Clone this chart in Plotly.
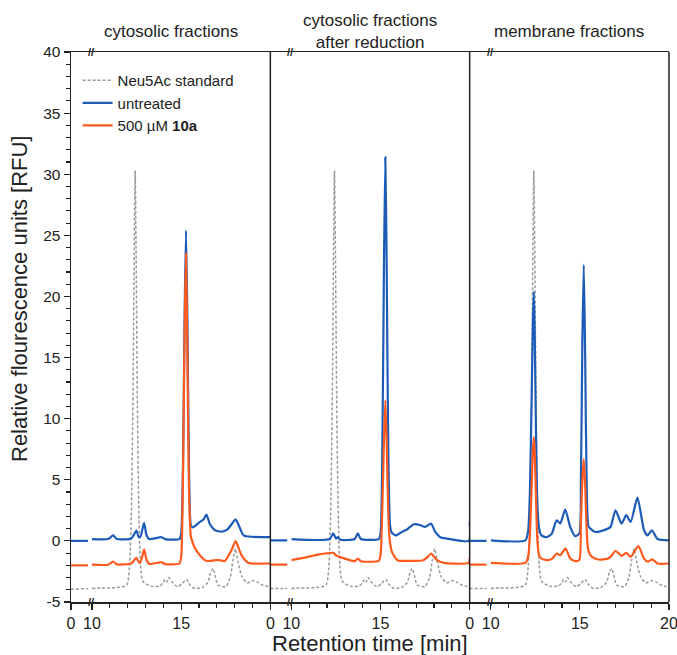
import plotly.graph_objects as go

# ---------------- data ----------------
PANEL_TITLES = ["cytosolic fractions", "cytosolic fractions<br>after reduction", "membrane fractions"]
SERIES_NAMES = ["Neu5Ac standard", "untreated", "500 µM <b>10a</b>"]

# left (0 .. ~1 min) segment of the broken axis
LEFT_T = [0.0, 0.95]
LEFT_STD = [[-3.95, -3.9], [-3.9, -3.9], [-3.9, -3.9]]
LEFT_BLUE = [[0.0, 0.0], [0.05, 0.05], [0.0, 0.0]]
LEFT_ORANGE = [[-2.0, -2.0], [-1.95, -1.95], [-1.95, -1.95]]

# Neu5Ac standard (same in all panels), 10..20 min
STD_T = [10.0, 10.5, 11.0, 11.5, 11.95, 12.1, 12.2, 12.3, 12.37, 12.42, 12.47, 12.54, 12.62, 12.72, 12.85,
         13.3, 13.8, 14.0, 14.1, 14.2, 14.3, 14.45, 14.8, 15.05, 15.3, 15.5, 15.75, 16.2, 16.5, 16.65,
         16.78, 16.9, 17.06, 17.5, 17.75, 17.9, 18.04, 18.2, 18.4, 18.7, 19.0, 19.3, 19.6, 20.0]
STD_V = [-3.9, -3.85, -3.85, -3.8, -3.6, -2.2, 2.0, 12.0, 24.0, 30.3, 24.0, 12.0, 3.0, -2.0, -3.3,
         -3.7, -3.7, -3.4, -3.15, -3.35, -3.0, -3.3, -3.75, -3.5, -3.15, -3.6, -3.9, -3.8, -3.4, -2.6,
         -2.25, -2.8, -3.6, -3.75, -3.0, -1.6, -0.65, -1.8, -2.9, -3.45, -3.25, -3.4, -3.65, -3.75]

# panel 1: cytosolic fractions
P1_BLUE_T = [10.0, 10.9, 11.19, 11.4, 12.2, 12.35, 12.49, 12.62, 12.73, 12.92, 13.05, 13.2, 13.9, 14.1,
             14.9, 15.0, 15.1, 15.19, 15.27, 15.35, 15.44, 15.54, 15.64, 15.85, 16.05, 16.25, 16.42,
             16.6, 16.9, 17.27, 17.6, 17.85, 18.05, 18.25, 18.5, 19.0, 20.0]
P1_BLUE_V = [0.15, 0.15, 0.45, 0.15, 0.2, 0.5, 0.85, 0.3, 0.4, 1.47, 0.5, 0.15, 0.3, 0.15,
             0.15, 0.6, 6.0, 18.0, 25.4, 18.0, 6.0, 1.3, 1.1, 1.3, 1.55, 1.75, 2.15,
             1.4, 0.87, 0.75, 0.95, 1.4, 1.77, 1.2, 0.46, 0.33, 0.3]
P1_ORANGE_T = [10.0, 10.9, 11.19, 11.4, 12.2, 12.35, 12.49, 12.62, 12.69, 12.8, 12.92, 13.05, 13.2, 13.9,
               14.1, 14.9, 15.0, 15.1, 15.19, 15.27, 15.35, 15.44, 15.54, 15.6, 15.74, 16.12, 16.4,
               16.69, 17.06, 17.44, 17.82, 18.05, 18.2, 18.38, 18.76, 20.0]
P1_ORANGE_V = [-1.95, -1.95, -1.7, -1.92, -1.85, -1.6, -1.39, -1.75, -1.8, -1.4, -0.7, -1.5, -1.87, -1.75,
               -1.9, -1.85, -1.3, 5.0, 17.0, 23.5, 15.0, 4.0, 0.4, 0.06, -0.5, -1.3, -1.63,
               -1.63, -1.55, -1.65, -0.76, -0.02, -0.5, -1.16, -1.78, -1.85]

# panel 2: cytosolic fractions after reduction
P2_BLUE_T = [10.0, 12.15, 12.35, 12.5, 12.6, 12.75, 13.55, 13.73, 13.9, 14.9, 15.0, 15.1, 15.19, 15.27,
             15.35, 15.44, 15.54, 15.62, 15.85, 16.2, 16.5, 16.87, 17.25, 17.5, 17.83, 18.07, 18.35,
             18.9, 19.95, 20.0]
P2_BLUE_V = [0.15, 0.15, 0.62, 0.2, 0.3, 0.1, 0.15, 0.62, 0.15, 0.15, 0.6, 7.0, 22.0, 31.4,
             22.0, 7.0, 1.2, 0.7, 0.45, 0.73, 0.95, 1.36, 1.28, 1.14, 1.42, 0.73, 0.3,
             0.15, 0.0, 1.55]
P2_ORANGE_T = [10.0, 10.8, 11.5, 12.35, 12.5, 13.0, 13.55, 13.73, 13.9, 14.9, 15.0, 15.1, 15.19, 15.27,
               15.35, 15.44, 15.52, 15.64, 15.95, 16.8, 17.4, 17.65, 17.83, 18.17, 18.55, 19.95, 20.0]
P2_ORANGE_V = [-1.58, -1.35, -1.12, -0.98, -1.17, -1.45, -1.66, -1.45, -1.66, -1.63, -1.2, 2.5, 8.0, 11.5,
               8.0, 2.0, 0.06, -0.9, -1.58, -1.63, -1.58, -1.31, -1.03, -1.58, -1.8, -1.8, -1.4]

# panel 3: membrane fractions
P3_BLUE_T = [10.0, 11.95, 12.1, 12.2, 12.3, 12.37, 12.42, 12.47, 12.54, 12.62, 12.72, 12.85, 13.14, 13.42,
             13.7, 13.9, 14.18, 14.46, 14.74, 14.97, 15.06, 15.14, 15.22, 15.3, 15.39, 15.48, 15.59,
             15.87, 16.44, 16.72, 17.0, 17.34, 17.6, 17.85, 18.23, 18.6, 18.8, 19.04, 19.36, 20.0]
P3_BLUE_V = [0.05, 0.05, 0.8, 4.0, 12.0, 18.0, 20.4, 17.0, 9.0, 3.0, 1.0, 0.45, 0.3, 0.57,
             1.69, 1.42, 2.56, 1.14, 0.38, 0.6, 5.0, 16.0, 22.6, 15.0, 4.0, 1.2, 1.0,
             0.73, 0.92, 1.14, 2.5, 1.42, 2.1, 1.55, 3.54, 0.87, 0.45, 0.87, 0.15, 0.05]
P3_ORANGE_T = [10.0, 11.95, 12.1, 12.2, 12.3, 12.37, 12.42, 12.47, 12.54, 12.62, 12.72, 12.85, 13.2, 13.45,
               13.7, 13.9, 14.2, 14.46, 14.74, 14.97, 15.06, 15.14, 15.22, 15.3, 15.38, 15.48, 15.68,
               16.06, 16.6, 16.8, 17.0, 17.34, 17.6, 17.85, 18.28, 18.6, 18.8, 19.06, 19.36, 20.0]
P3_ORANGE_V = [-1.8, -1.8, -1.3, 0.5, 4.5, 7.5, 8.5, 7.3, 3.5, 0.0, -1.2, -1.45, -1.58, -1.45,
               -1.03, -1.17, -0.62, -1.45, -1.66, -1.55, 1.5, 5.0, 6.7, 4.5, 1.0, -0.8, -1.31,
               -1.52, -1.45, -1.17, -0.82, -1.22, -0.98, -1.31, -0.43, -1.45, -1.7, -1.52, -1.85, -1.85]

BLUE_T = [P1_BLUE_T, P2_BLUE_T, P3_BLUE_T]
BLUE_V = [P1_BLUE_V, P2_BLUE_V, P3_BLUE_V]
ORANGE_T = [P1_ORANGE_T, P2_ORANGE_T, P3_ORANGE_T]
ORANGE_V = [P1_ORANGE_V, P2_ORANGE_V, P3_ORANGE_V]

Y_TICKS = [-5, 0, 5, 10, 15, 20, 25, 30, 35, 40]

# ---------------- styling ----------------
BLUE = "#1c5cb8"
ORANGE = "#ff5a1e"
GREY = "#999999"
INK = "#222222"
FONT = "Arial, Liberation Sans, sans-serif"

W, H = 677, 655
# plot area in page pixels: x 71..669, y 52..602
ML, MR = 71, 677 - 669
MT, MB = 52, 655 - 602
PLOT_W = 669 - 71
PLOT_H = 602 - 52
LEFT_W = 21 / PLOT_W  # width of the 0-min stub

fig = go.Figure()

def add_line(xa, t, v, color, dash, width, name=None, show=False, group=None):
    fig.add_trace(go.Scatter(
        x=t, y=v, xaxis=xa, yaxis="y", mode="lines",
        line=dict(color=color, width=width, dash=dash, shape="spline", smoothing=0.6),
        name=name, showlegend=show, legendgroup=group, hoverinfo="skip"))

for p in range(3):
    xl = "x" if p == 0 else f"x{2 * p + 1}"
    xr = f"x{2 * p + 2}"
    first = p == 0
    add_line(xl, LEFT_T, LEFT_STD[p], GREY, "3px,2px", 1.5, SERIES_NAMES[0], False, "s")
    add_line(xl, LEFT_T, LEFT_ORANGE[p], ORANGE, "solid", 2.2, SERIES_NAMES[2], False, "o")
    add_line(xl, LEFT_T, LEFT_BLUE[p], BLUE, "solid", 2.2, SERIES_NAMES[1], False, "b")
    add_line(xr, STD_T, STD_V, GREY, "3px,2px", 1.5, SERIES_NAMES[0], first, "s")
    add_line(xr, BLUE_T[p], BLUE_V[p], BLUE, "solid", 2.2, SERIES_NAMES[1], first, "b")
    add_line(xr, ORANGE_T[p], ORANGE_V[p], ORANGE, "solid", 2.2, SERIES_NAMES[2], first, "o")

axis_common = dict(showline=True, linecolor=INK, linewidth=1.5, mirror=True, ticks="outside",
                   ticklen=6, tickwidth=1.2, tickcolor=INK, showgrid=False, zeroline=False,
                   tickfont=dict(size=16, color=INK, family=FONT), anchor="y", fixedrange=True,
                   ticklabeloverflow="allow", automargin=False)

layout_axes = {}
for p in range(3):
    x0 = p / 3
    x1 = (p + 1) / 3
    lname = "xaxis" if p == 0 else f"xaxis{2 * p + 1}"
    rname = f"xaxis{2 * p + 2}"
    layout_axes[lname] = dict(axis_common, domain=[x0, x0 + LEFT_W], range=[0, 21 / 17.8],
                              tickvals=[0], ticktext=["0"])
    rt = [10, 15, 20] if p == 2 else [10, 15]
    layout_axes[rname] = dict(axis_common, domain=[x0 + LEFT_W, x1], range=[10, 20],
                              tickvals=rt, ticktext=[str(v) for v in rt],
                              minor=dict(dtick=1, tick0=10, ticks="outside", ticklen=4,
                                         tickwidth=1.2, tickcolor=INK))

fig.update_layout(
    width=W, height=H,
    margin=dict(l=ML, r=MR, t=MT, b=MB, autoexpand=False),
    paper_bgcolor="white", plot_bgcolor="white",
    font=dict(family=FONT, color=INK),
    yaxis=dict(range=[-5, 40], tickvals=Y_TICKS, ticktext=[str(v) for v in Y_TICKS],
               showline=True, linecolor=INK, linewidth=1.5, ticks="outside", ticklen=6,
               tickwidth=1.2, tickcolor=INK, showgrid=False, zeroline=False, anchor="x",
               tickfont=dict(size=15.5, color=INK, family=FONT), fixedrange=True, automargin=False,
               minor=dict(dtick=1, tick0=0, ticks="outside", ticklen=4, tickwidth=1.2, tickcolor=INK)),
    legend=dict(x=0.011, y=0.978, xanchor="left", yanchor="top", bgcolor="rgba(0,0,0,0)",
                font=dict(size=15, color=INK, family=FONT), traceorder="normal",
                itemclick=False, itemdoubleclick=False),
    showlegend=True,
    **layout_axes,
)

# panel borders
for xp in [1 / 3, 2 / 3, 1.0]:
    fig.add_shape(type="line", xref="paper", yref="paper", x0=xp, x1=xp, y0=0, y1=1,
                  line=dict(color=INK, width=1.5))

# axis-break marks
for p in range(3):
    xb = p / 3 + 20 / PLOT_W
    for yb in (0, 1):
        fig.add_annotation(xref="paper", yref="paper", x=xb, y=yb, text="<b>//</b>",
                           showarrow=False, xanchor="center", yanchor="middle",
                           font=dict(size=11, color=INK, family=FONT))

# panel titles
for p, title in enumerate(PANEL_TITLES):
    fig.add_annotation(xref="paper", yref="paper", x=(p + 0.5) / 3, y=1 + (52 - 32) / PLOT_H,
                       text=title, showarrow=False, xanchor="center", yanchor="middle",
                       font=dict(size=17, color=INK, family=FONT))

# axis titles
fig.add_annotation(xref="paper", yref="paper", x=0.5, y=-(643 - 602) / PLOT_H,
                   text="Retention time [min]", showarrow=False, xanchor="center", yanchor="middle",
                   font=dict(size=22, color=INK, family=FONT))
fig.add_annotation(xref="paper", yref="paper", x=(19 - 71) / PLOT_W, y=(602 - 299) / PLOT_H,
                   text="Relative flourescence units [RFU]", showarrow=False, textangle=-90,
                   xanchor="center", yanchor="middle",
                   font=dict(size=22, color=INK, family=FONT))

# remove the default page margin so the 677x655 figure fills the window exactly
fig.write_html("out.html",
               config={"displayModeBar": False, "staticPlot": True},
               post_script="document.body.style.margin='0';document.body.style.overflow='hidden';")
